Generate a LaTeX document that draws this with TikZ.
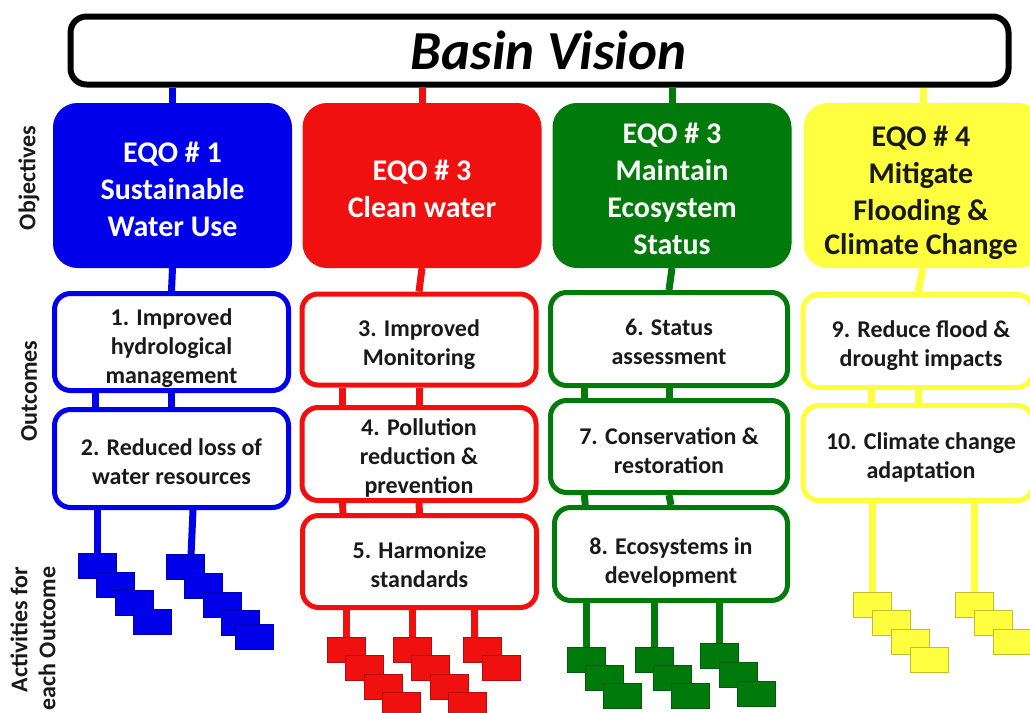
\documentclass[tikz,border=0pt]{standalone}
\usepackage{fontspec}
\setmainfont{Carlito}
\usetikzlibrary{calc}
\definecolor{cblue}{RGB}{0,0,235}
\definecolor{cred}{RGB}{240,16,16}
\definecolor{cgreen}{RGB}{0,122,10}
\definecolor{cyellow}{RGB}{255,255,64}
\definecolor{ctext}{RGB}{25,25,25}
\pgfdeclarelayer{back}
\pgfsetlayers{back,main}
\begin{document}
\begin{tikzpicture}[x=1pt,y=-1pt,
  vision/.style={draw=black, line width=6pt, rounded corners=16pt, fill=white, minimum width=938pt, minimum height=68pt, inner sep=0pt},
  visiontext/.style={inner sep=0pt, font=\fontsize{55}{60}\selectfont\bfseries\itshape},
  eqo/.style={draw=#1, fill=#1, line width=1pt, rounded corners=24pt, minimum width=238pt, minimum height=164pt, inner sep=0pt},
  eqotext/.style={inner sep=0pt, align=center, text=white, font=\fontsize{30}{37}\selectfont\bfseries},
  outc/.style={draw=#1, fill=white, line width=5pt, rounded corners=16pt, minimum width=234pt, inner sep=0pt},
  outtext/.style={inner sep=0pt, align=center, text=ctext, font=\fontsize{24}{29}\selectfont\bfseries},
  link/.style={draw=#1, line width=7pt},
  sq/.style={draw=#1!75!black, fill=#1, line width=0.6pt, minimum width=38pt, minimum height=25pt, inner sep=0pt, anchor=north west},
  lab/.style={rotate=90, text=ctext, font=\fontsize{24}{28}\selectfont\bfseries}
]
\useasboundingbox (0,0) rectangle (1030,712);

% top box
\node[vision] (vision) at (539.5,50.5) {};
\node[visiontext] (visiont) at ($(vision)+(9,0)$) {Basin Vision};

% objectives
\node[eqo=cblue]  (e1) at (172.5,185.5) {};
\node[eqo=cred]   (e2) at (422,185.5) {};
\node[eqo=cgreen] (e3) at (672,185.5) {};
\node[eqo=cyellow] (e4) at (923,185.5) {};
\node[eqotext] (e1t) at ($(e1)+(0,4)$) {EQO \# 1\\Sustainable\\Water Use};
\node[eqotext] (e2t) at ($(e2)+(0,3)$) {EQO \# 3\\Clean water};
\node[eqotext] (e3t) at ($(e3)+(0,3.5)$) {EQO \# 3\\Maintain\\Ecosystem\\Status};
\node[eqotext, text=ctext] (e4t) at ($(e4)+(-2,7)$) {EQO \# 4\\Mitigate\\Flooding \&\\[-3pt]Climate Change};

% outcomes
\node[outc=cblue, minimum height=97pt] (o1) at (171.5,342) {};
\node[outc=cblue, minimum height=98pt] (o2) at (171.5,458.5) {};
\node[outc=cred, minimum height=91pt] (o3) at (419,339.5) {};
\node[outc=cred, minimum height=93pt] (o4) at (419,454) {};
\node[outc=cred, minimum height=92pt] (o5) at (419.5,561.5) {};
\node[outc=cgreen, minimum width=237pt, minimum height=93pt] (o6) at (669,339) {};
\node[outc=cgreen, minimum width=237pt, minimum height=92pt] (o7) at (669,446.5) {};
\node[outc=cgreen, minimum width=233pt, minimum height=93pt] (o8) at (671,554) {};
\node[outc=cyellow, minimum width=230pt, minimum height=93pt] (o9) at (918,341) {};
\node[outc=cyellow, minimum width=230pt, minimum height=95pt] (o10) at (918,453) {};
\node[outtext] (o1t) at ($(o1)+(0,6)$) {1. Improved\\hydrological\\management};
\node[outtext] (o2t) at ($(o2)+(0,3)$) {2. Reduced loss of\\water resources};
\node[outtext] (o3t) at ($(o3)+(0,5)$) {3. Improved\\Monitoring};
\node[outtext] (o4t) at ($(o4)+(0,4)$) {4. Pollution\\reduction \&\\prevention};
\node[outtext] (o5t) at ($(o5)+(0,3)$) {5. Harmonize\\standards};
\node[outtext] (o6t) at ($(o6)+(0,3)$) {6. Status\\assessment};
\node[outtext] (o7t) at ($(o7)+(0,4)$) {7. Conservation \&\\restoration};
\node[outtext] (o8t) at ($(o8)+(0,8)$) {8. Ecosystems in\\development};
\node[outtext] (o9t) at ($(o9)+(3,5)$) {9. Reduce flood \&\\drought impacts};
\node[outtext] (o10t) at ($(o10)+(3,4)$) {10. Climate change\\adaptation};

% activities
\foreach \i in {0,...,3} \node[sq=cblue] (ba\i) at ({78+18.3*\i},{553+18.7*\i}) {};
\foreach \px/\py [count=\i from 0] in {166/554,184/573,203/592,221/610,235/624} \node[sq=cblue] (bb\i) at (\px,\py) {};
\foreach \i in {0,...,3} \node[sq=cred] (ra\i) at ({327+18.3*\i},{637+18.3*\i}) {};
\foreach \i in {0,...,3} \node[sq=cred] (rb\i) at ({393+18.3*\i},{637+18.3*\i}) {};
\foreach \i in {0,1} \node[sq=cred] (rc\i) at ({463+18.5*\i},{637+18.3*\i}) {};
\foreach \i in {0,...,2} \node[sq=cgreen] (ga\i) at ({567+18*\i},{647+18*\i}) {};
\foreach \i in {0,...,2} \node[sq=cgreen] (gb\i) at ({635+18*\i},{647+18*\i}) {};
\foreach \i in {0,...,2} \node[sq=cgreen] (gc\i) at ({700+18.5*\i},{643+19*\i}) {};
\foreach \i in {0,...,3} \node[sq=cyellow] (ya\i) at ({853+19*\i},{592+18.3*\i}) {};
\foreach \i in {0,...,2} \node[sq=cyellow] (yb\i) at ({955+19*\i},{592+18.3*\i}) {};

% side labels
\node[lab] (l1) at (29,178) {Objectives};
\node[lab] (l2) at (29,391) {Outcomes};
\node[lab, align=right, anchor=east] (l3) at (33,563) {Activities for\\each Outcome};

\begin{pgfonlayer}{back}
% vision to objectives
\draw[link=cblue]   (vision.south -| e1.north) -- (e1.north);
\draw[link=cred]    (vision.south -| e2.north) -- (e2.north);
\draw[link=cgreen]  (vision.south -| e3.north) -- (e3.north);
\draw[link=cyellow] (vision.south -| e4.north) -- (e4.north);
% blue
\draw[link=cblue] (e1.south) -- (o1.north);
\draw[link=cblue] (o1.south) -- (o2.north);
\draw[link=cblue] ($(o1.south west)!0.18!(o1.south east)$) -- ($(o2.north west)!0.18!(o2.north east)$);
\draw[link=cblue] (o2.south -| ba0.north) -- (ba0.north);
\draw[link=cblue] ($(o2.south west)!0.59!(o2.south east)$) -- ($(bb0.north west)!0.65!(bb0.north east)$);
% red
\draw[link=cred] (e2.south) -- (o3.north);
\draw[link=cred] (o3.south) -- (o4.north);
\draw[link=cred] ($(o3.south west)!0.18!(o3.south east)$) -- ($(o4.north west)!0.18!(o4.north east)$);
\draw[link=cred] (o4.south) -- (o5.north);
\draw[link=cred] ($(o4.south west)!0.18!(o4.south east)$) -- ($(o5.north west)!0.18!(o5.north east)$);
\draw[link=cred] (o5.south -| ra0.north) -- (ra0.north);
\draw[link=cred] (o5.south -| rb0.north) -- (rb0.north);
\draw[link=cred] ($(o5.south west)!0.73!(o5.south east)$) -- ($(rc0.north west)!0.3!(rc0.north east)$);
% green
\draw[link=cgreen] (e3.south) -- (o6.north);
\draw[link=cgreen] (o6.south) -- (o7.north);
\draw[link=cgreen] ($(o6.south west)!0.15!(o6.south east)$) -- ($(o7.north west)!0.15!(o7.north east)$);
\draw[link=cgreen] (o7.south) -- (o8.north);
\draw[link=cgreen] ($(o7.south west)!0.15!(o7.south east)$) -- ($(o8.north west)!0.14!(o8.north east)$);
\draw[link=cgreen] (o8.south -| ga0.north) -- (ga0.north);
\draw[link=cgreen] (o8.south -| gb0.north) -- (gb0.north);
\draw[link=cgreen] (o8.south -| gc0.north) -- (gc0.north);
% yellow
\draw[link=cyellow] (e4.south) -- (o9.north);
\draw[link=cyellow] (o9.south) -- (o10.north);
\draw[link=cyellow] ($(o9.south west)!0.3!(o9.south east)$) -- ($(o10.north west)!0.3!(o10.north east)$);
\draw[link=cyellow] (o10.south -| ya0.north) -- (ya0.north);
\draw[link=cyellow] (o10.south -| yb0.north) -- (yb0.north);
\end{pgfonlayer}
\end{tikzpicture}
\end{document}
